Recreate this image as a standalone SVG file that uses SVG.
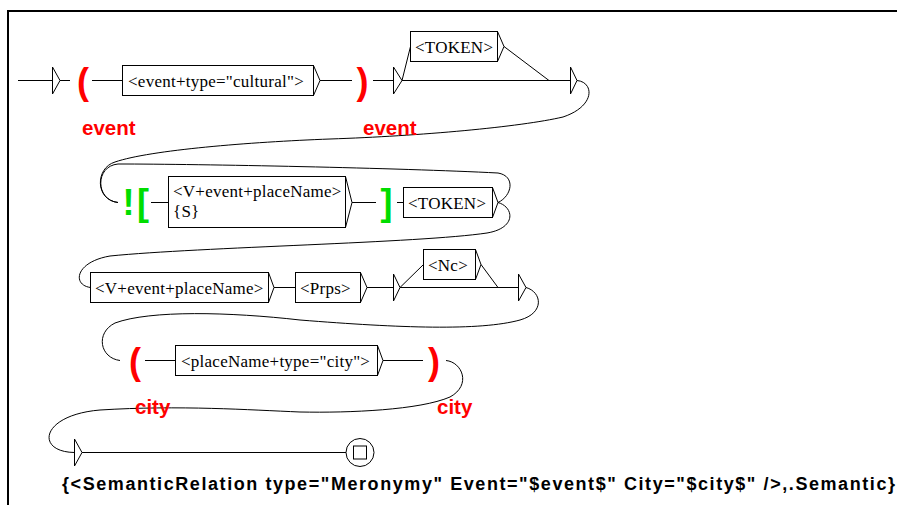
<svg xmlns="http://www.w3.org/2000/svg" width="897" height="505" viewBox="0 0 897 505">
<style>
.frame{fill:none;stroke:#000;stroke-width:2}
.bx{fill:#fff;stroke:#000;stroke-width:1}
.ln{fill:none;stroke:#000;stroke-width:1}
.lbl{font-family:"Liberation Serif","Times New Roman",serif;font-size:17px;letter-spacing:0.25px;fill:#000}
.var{font-family:"Liberation Sans",Arial,sans-serif;font-weight:bold;font-size:20.5px;fill:#f00}
.par{font-family:"Liberation Sans",Arial,sans-serif;font-weight:bold;font-size:36px;fill:#f00;text-anchor:middle}
.ctx{font-family:"Liberation Sans",Arial,sans-serif;font-weight:bold;font-size:36px;fill:#00dd00;text-anchor:middle}
.out{font-family:"Liberation Sans",Arial,sans-serif;font-weight:bold;font-size:18px;fill:#000}
</style>
<rect width="897" height="505" fill="#fff"/>
<path class="frame" d="M8,505 L8,11 L897,11"/>
<g id="connectors">
<path class="ln" d="M18,80.5 H52.5 M60,80.5 H70 M92,80.5 H122.5 M320,80.5 H352 M373,80.5 H393.5 M402,80.5 H570.5 M402,80.5 L410.5,46.5 M504,46.5 L549,80.5"/>
<path class="ln" d="M577,80.5 C594,82 596,106 563,117 C520,127 420,136 330,139 C250,142 150,150 115,162 C95,168 95,200 118,202.5"/>
<path class="ln" d="M151,202.5 H168.5 M352,202.5 H376 M397,202.5 H403.5"/>
<path class="ln" d="M498,202.5 C512,196 516,176 498,173 C400,168 200,164 118,164 C95,166 95,200 118,202.5"/>
<path class="ln" d="M498,202.5 C514,207 517,228 487,233 C420,243 200,247 110,256 C75,262 72,285 90.5,287.5"/>
<path class="ln" d="M274,287.5 H295.5 M367,287.5 H393.5 M400,287.5 H518.5 M400,287.5 L423.5,264.5 M481,264.5 L498,287.5"/>
<path class="ln" d="M526,287.5 C542,292 545,313 520,320 C480,331 400,328 300,320 C230,312 150,310 115,323 C95,333 100,358 120,360.5"/>
<path class="ln" d="M145,360.5 H175.5 M383,360.5 H423"/>
<path class="ln" d="M446,360.5 C462,362 472,385 450,397 C420,410 350,413 300,412 C250,410 180,405 100,410 C40,415 35,452 74.5,452.5"/>
<path class="ln" d="M82,452.5 H346"/>
</g>
<g id="n-init"><path class="ln" d="M52.5,67 V94 L60,80.5 Z" fill="#fff"/></g>
<g id="n-open-event"><text class="par" x="83" y="94">(</text><text class="var" x="82" y="135">event</text></g>
<g id="n-cultural"><rect class="bx" x="122.5" y="65.5" width="191" height="30"/><path class="ln" d="M313.5,65.5 L320,80.5 L313.5,95.5"/><text class="lbl" x="128" y="86.5">&lt;event+type="cultural"&gt;</text></g>
<g id="n-close-event"><text class="par" x="362.5" y="94">)</text><text class="var" x="363" y="135">event</text></g>
<g id="n-e1"><path class="ln" d="M393.5,67 V94 L402,80.5 Z" fill="#fff"/></g>
<g id="n-token1"><rect class="bx" x="410.5" y="31.5" width="87" height="30"/><path class="ln" d="M497.5,31.5 L504,46.5 L497.5,61.5"/><text class="lbl" x="415" y="52.5">&lt;TOKEN&gt;</text></g>
<g id="n-e2"><path class="ln" d="M570.5,67 V94 L577,80.5 Z" fill="#fff"/></g>
<g id="n-neg"><text class="ctx" x="128.5" y="215">!</text><text class="ctx" x="143" y="215">[</text></g>
<g id="n-vevent1"><rect class="bx" x="168.5" y="176.5" width="177" height="51"/><path class="ln" d="M345.5,176.5 L352,202.5 L345.5,227.5"/><text class="lbl" x="173" y="197">&lt;V+event+placeName&gt;</text><text class="lbl" x="173" y="217">{S}</text></g>
<g id="n-ctxend"><text class="ctx" x="386.5" y="215">]</text></g>
<g id="n-token2"><rect class="bx" x="403.5" y="187.5" width="89" height="30"/><path class="ln" d="M492.5,187.5 L498,202.5 L492.5,217.5"/><text class="lbl" x="408" y="208.5">&lt;TOKEN&gt;</text></g>
<g id="n-vevent2"><rect class="bx" x="90.5" y="272.5" width="178" height="30"/><path class="ln" d="M268.5,272.5 L274,287.5 L268.5,302.5"/><text class="lbl" x="95" y="293.5">&lt;V+event+placeName&gt;</text></g>
<g id="n-prps"><rect class="bx" x="295.5" y="272.5" width="65" height="30"/><path class="ln" d="M360.5,272.5 L367,287.5 L360.5,302.5"/><text class="lbl" x="300" y="293.5">&lt;Prps&gt;</text></g>
<g id="n-e3"><path class="ln" d="M393.5,274 V301 L400,287.5 Z" fill="#fff"/></g>
<g id="n-nc"><rect class="bx" x="423.5" y="249.5" width="52" height="30"/><path class="ln" d="M475.5,249.5 L481,264.5 L475.5,279.5"/><text class="lbl" x="428" y="270.5">&lt;Nc&gt;</text></g>
<g id="n-e4"><path class="ln" d="M518.5,274 V301 L526,287.5 Z" fill="#fff"/></g>
<g id="n-open-city"><text class="par" x="135" y="374">(</text><text class="var" x="135" y="414">city</text></g>
<g id="n-city"><rect class="bx" x="175.5" y="345.5" width="202" height="30"/><path class="ln" d="M377.5,345.5 L383,360.5 L377.5,375.5"/><text class="lbl" x="181" y="366.5">&lt;placeName+type="city"&gt;</text></g>
<g id="n-close-city"><text class="par" x="434" y="374">)</text><text class="var" x="437" y="414">city</text></g>
<g id="n-e5"><path class="ln" d="M74.5,439 V466 L82,452.5 Z" fill="#fff"/></g>
<g id="n-final"><circle class="ln" cx="360" cy="452.5" r="14"/><rect class="ln" x="353.5" y="446" width="13" height="13"/><text class="out" x="62" y="490" textLength="833" lengthAdjust="spacing">{&lt;SemanticRelation type="Meronymy" Event="$event$" City="$city$" /&gt;,.Semantic}</text></g>
</svg>
